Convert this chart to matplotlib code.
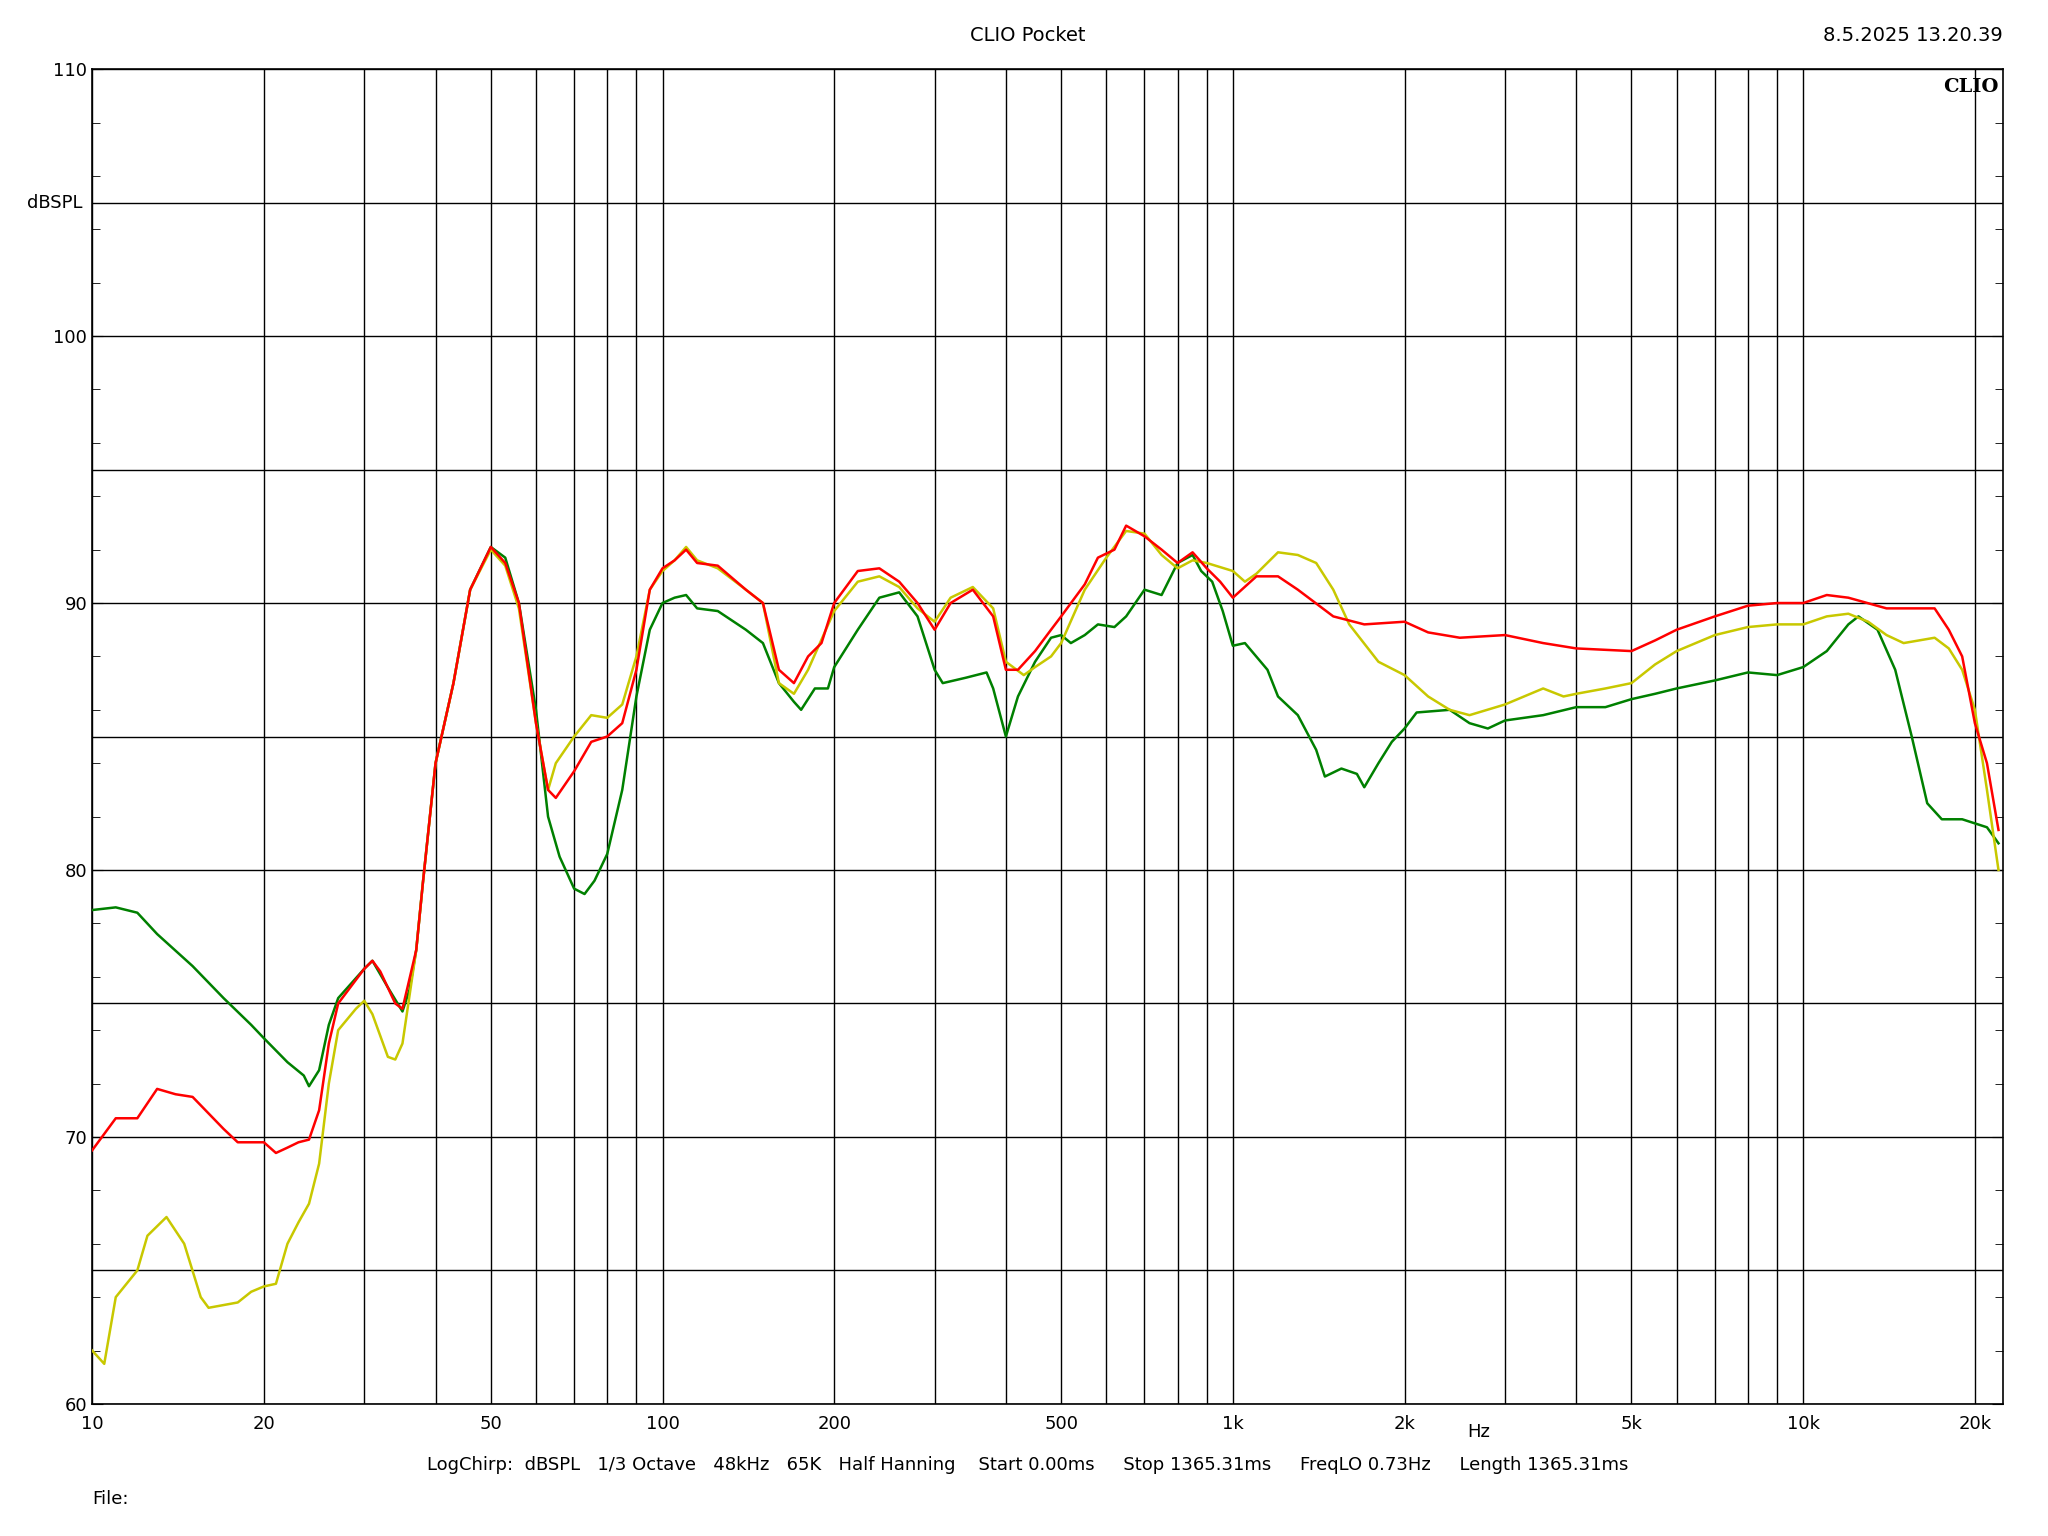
import numpy as np
import matplotlib
matplotlib.use("Agg")
import matplotlib.pyplot as plt
from matplotlib.ticker import FixedLocator, MultipleLocator, NullFormatter

red_f = [10,11,12,13,14,15,17,18,20,21,22,23,24,25,26,27,30,31,32,34,35,37,38,40,43,46,50,53,56,60,63,65,70,75,80,85,90,95,100,105,110,115,125,140,150,160,170,180,190,200,220,240,260,280,300,320,350,380,400,420,450,480,500,550,580,620,650,700,750,800,850,900,950,1000,1100,1200,1300,1500,1700,2000,2200,2500,3000,3500,4000,5000,5500,6000,7000,8000,9000,10000,11000,12000,14000,16000,17000,18000,19000,20000,21000,22000]
red_v = [69.5,70.7,70.7,71.8,71.6,71.5,70.3,69.8,69.8,69.4,69.6,69.8,69.9,71,73.5,75,76.3,76.6,76.2,75,74.8,77,79.5,84,87,90.5,92.1,91.5,90,85.5,83,82.7,83.7,84.8,85,85.5,87.5,90.5,91.3,91.6,92,91.5,91.4,90.5,90,87.5,87,88,88.5,90,91.2,91.3,90.8,90,89,90,90.5,89.5,87.5,87.5,88.2,89,89.5,90.7,91.7,92,92.9,92.5,92,91.5,91.9,91.3,90.8,90.2,91,91,90.5,89.5,89.2,89.3,88.9,88.7,88.8,88.5,88.3,88.2,88.6,89,89.5,89.9,90,90,90.3,90.2,89.8,89.8,89.8,89,88,85.5,84,81.5]

yel_f = [10,10.5,11,12,12.5,13.5,14.5,15.5,16,18,19,20,21,22,23,24,25,26,27,29,30,31,33,34,35,37,38,40,43,46,50,53,56,60,63,65,70,75,80,85,90,95,100,105,110,115,125,140,150,160,170,180,200,220,240,260,280,300,320,350,380,400,430,450,480,500,550,600,650,700,750,800,850,900,1000,1050,1100,1200,1300,1400,1500,1600,1800,2000,2200,2400,2600,3000,3500,3800,4000,4500,5000,5500,6000,7000,8000,9000,10000,11000,12000,13000,14000,15000,17000,18000,19000,20000,21000,22000]
yel_v = [62,61.5,64,65,66.3,67,66,64,63.6,63.8,64.2,64.4,64.5,66,66.8,67.5,69,72,74,74.8,75.1,74.6,73,72.9,73.5,77,79.5,84,87,90.5,92,91.4,89.8,85.5,83,84,85,85.8,85.7,86.2,88,90.5,91.2,91.6,92.1,91.6,91.3,90.5,90,87,86.6,87.5,89.7,90.8,91,90.6,89.8,89.3,90.2,90.6,89.8,87.8,87.3,87.6,88,88.5,90.5,91.7,92.7,92.6,91.8,91.3,91.6,91.5,91.2,90.8,91.1,91.9,91.8,91.5,90.5,89.2,87.8,87.3,86.5,86,85.8,86.2,86.8,86.5,86.6,86.8,87,87.7,88.2,88.8,89.1,89.2,89.2,89.5,89.6,89.3,88.8,88.5,88.7,88.3,87.5,86,83,80]

grn_f = [10,11,12,13,15,17,19,20,22,23.5,24,25,26,27,30,31,33,35,36,37,38,40,43,46,50,53,56,60,63,66,70,73,76,80,85,90,95,100,105,110,115,125,140,150,160,170,175,185,195,200,220,240,260,280,300,310,340,370,380,400,420,450,480,500,520,550,580,620,650,700,750,800,850,880,920,960,1000,1050,1150,1200,1300,1400,1450,1550,1650,1700,1800,1900,2000,2100,2400,2600,2800,3000,3500,4000,4500,5000,5500,6000,7000,8000,9000,10000,11000,12000,12500,13500,14500,15500,16500,17500,19000,21000,22000]
grn_v = [78.5,78.6,78.4,77.6,76.4,75.2,74.2,73.7,72.8,72.3,71.9,72.5,74.2,75.2,76.3,76.6,75.6,74.7,75.5,77,79.5,84,87,90.5,92.1,91.7,90,86,82,80.5,79.3,79.1,79.6,80.6,83,86.5,89,90,90.2,90.3,89.8,89.7,89,88.5,87,86.3,86,86.8,86.8,87.6,89,90.2,90.4,89.5,87.5,87,87.2,87.4,86.8,85,86.5,87.8,88.7,88.8,88.5,88.8,89.2,89.1,89.5,90.5,90.3,91.5,91.8,91.2,90.8,89.7,88.4,88.5,87.5,86.5,85.8,84.5,83.5,83.8,83.6,83.1,84,84.8,85.3,85.9,86,85.5,85.3,85.6,85.8,86.1,86.1,86.4,86.6,86.8,87.1,87.4,87.3,87.6,88.2,89.2,89.5,89,87.5,85,82.5,81.9,81.9,81.6,81]

fig = plt.figure(figsize=(20.48, 15.36), dpi=100)
ax = fig.add_axes([0.045, 0.086, 0.933, 0.869])
ax.set_xscale('log')
ax.set_xlim(10, 22400)
ax.set_ylim(60, 110)

grid = [10,20,30,40,50,60,70,80,90,100,200,300,400,500,600,700,800,900,1000,2000,3000,4000,5000,6000,7000,8000,9000,10000,20000]
for g in grid:
    ax.axvline(g, color='black', lw=1.0, zorder=1)
for y in range(60, 111, 5):
    ax.axhline(y, color='black', lw=1.0, zorder=1)

ax.plot(grn_f, grn_v, color='#008000', lw=1.8, zorder=3)
ax.plot(yel_f, yel_v, color='#c8c800', lw=1.8, zorder=4)
ax.plot(red_f, red_v, color='#ff0000', lw=1.8, zorder=5)

xt = [10,20,50,100,200,500,1000,2000,5000,10000,20000]
xl = ['10','20','50','100','200','500','1k','2k','5k','10k','20k']
ax.xaxis.set_major_locator(FixedLocator(xt))
ax.set_xticklabels(xl, fontsize=13)
ax.xaxis.set_minor_locator(FixedLocator([]))
ax.xaxis.set_minor_formatter(NullFormatter())
ax.set_yticks([60,70,80,90,100,110])
ax.set_yticklabels(['60','70','80','90','100','110'], fontsize=13)
ax.yaxis.set_minor_locator(MultipleLocator(2))
ax.tick_params(axis='both', which='both', direction='in', right=True, length=8)
ax.tick_params(axis='x', length=0, pad=8)
ax.tick_params(axis='y', which='minor', length=6)
ax.text(2700, 59.3, 'Hz', ha='center', va='top', fontsize=13)
ax.text(-0.005, 105, 'dBSPL', transform=ax.get_yaxis_transform(), ha='right', va='center', fontsize=13)
ax.text(0.998, 0.993, 'CLIO', transform=ax.transAxes, ha='right', va='top', fontsize=14, fontweight='bold', family='DejaVu Serif')
for s in ax.spines.values():
    s.set_linewidth(1.2)

fig.text(0.502, 0.977, 'CLIO Pocket', ha='center', va='center', fontsize=14)
fig.text(0.978, 0.977, '8.5.2025 13.20.39', ha='right', va='center', fontsize=14)
fig.text(0.502, 0.046, 'LogChirp:  dBSPL   1/3 Octave   48kHz   65K   Half Hanning    Start 0.00ms     Stop 1365.31ms     FreqLO 0.73Hz     Length 1365.31ms', ha='center', va='center', fontsize=13)
fig.text(0.045, 0.024, 'File:', ha='left', va='center', fontsize=13)
fig.savefig('out.png', dpi=100, facecolor='white')
